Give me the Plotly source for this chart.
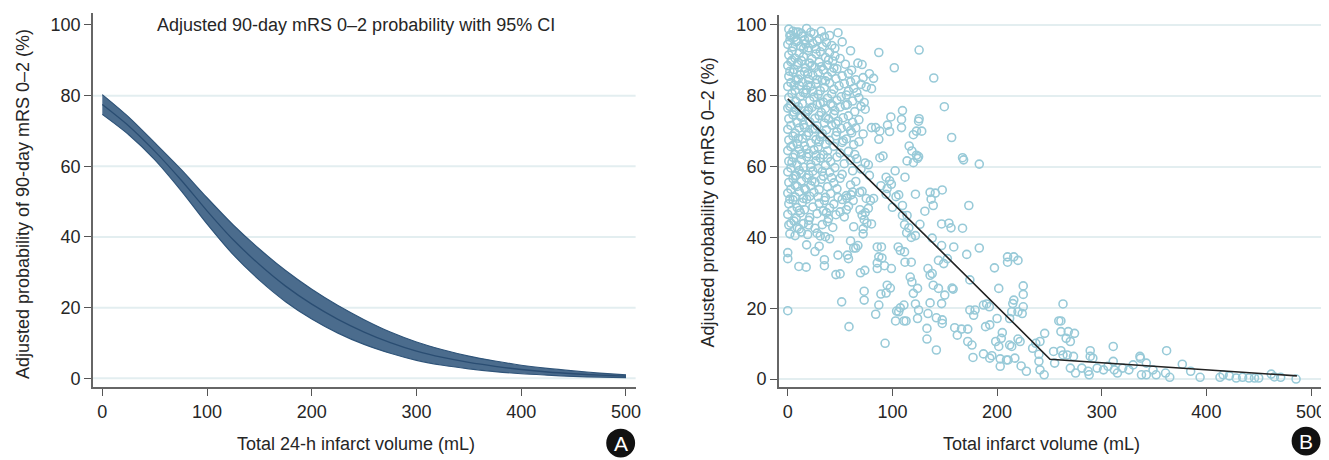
import plotly.graph_objects as go

# ---------------- Panel A data: adjusted probability with 95% CI ----------------
vol_a = [0, 25, 50, 75, 100, 125, 150, 175, 200, 225, 250, 275, 300, 325, 350, 375, 400, 425, 450, 475, 500]
prob_a = [77.5, 71.5, 64.3, 56.2, 47.4, 39.2, 32.2, 26.1, 21.0, 16.7, 13.1, 10.1, 7.7, 5.9, 4.5, 3.4, 2.5, 1.8, 1.3, 0.9, 0.6]
ci_high_a = [80.3, 74.0, 66.7, 59.2, 51.1, 43.4, 36.6, 30.5, 25.2, 20.6, 16.6, 13.1, 10.3, 8.1, 6.3, 4.9, 3.7, 2.8, 2.1, 1.5, 1.0]
ci_low_a = [74.7, 69.0, 61.9, 53.2, 43.7, 35.0, 27.8, 21.7, 16.8, 12.8, 9.6, 7.1, 5.1, 3.7, 2.7, 1.9, 1.3, 0.9, 0.55, 0.35, 0.2]

# ---------------- Panel B data: individual adjusted probabilities (volume, probability) ----------------
cluster_top = [
    (1, 98.8), (3, 97.2), (6, 96.5), (10, 98.0), (14, 96.8), (18, 99.0), (25, 97.5), (32, 98.2), (48, 97.8), (20, 96.3), (8, 97.9),
    (0, 94.5), (2, 95.6), (5, 93.8), (8, 95.2), (12, 94.0), (16, 95.8), (20, 93.5), (24, 94.8), (28, 95.5), (33, 93.9), (37, 95.0),
    (42, 94.2), (52, 95.2), (30, 96.0), (45, 93.4),
    (1, 91.5), (4, 92.6), (7, 90.6), (11, 92.0), (15, 91.0), (19, 92.8), (23, 90.4), (27, 91.8), (31, 92.4), (36, 90.8), (40, 92.2),
    (45, 91.2), (50, 90.5), (60, 92.7),
    (0, 88.5), (3, 89.6), (6, 87.4), (9, 88.8), (13, 89.9), (17, 87.8), (21, 89.2), (26, 88.0), (30, 89.5), (34, 87.3), (38, 88.6),
    (43, 89.8), (47, 87.6), (55, 88.9), (61, 87.2), (71, 88.8),
    (1, 85.5), (5, 86.6), (8, 84.4), (12, 85.9), (16, 86.8), (20, 84.6), (24, 85.7), (29, 86.5), (33, 84.3), (38, 85.4), (42, 86.7),
    (46, 84.8), (52, 85.6), (58, 86.3), (65, 84.5), (72, 85.1), (78, 86.2), (82, 84.9),
    (0, 82.6), (3, 83.7), (7, 81.5), (11, 82.9), (14, 83.8), (18, 81.6), (22, 82.7), (27, 83.5), (31, 81.4), (35, 82.3), (40, 83.6),
    (44, 81.8), (49, 82.8), (54, 83.4), (58, 81.3), (63, 82.1), (70, 83.2), (75, 82.5), (80, 82.0),
]
cluster_mid = [
    (1, 79.5), (4, 80.6), (8, 78.4), (12, 79.8), (17, 80.7), (21, 78.6), (25, 79.6), (29, 80.4), (34, 78.2), (38, 79.3), (42, 80.5),
    (47, 78.7), (51, 79.7), (56, 80.2), (62, 78.5), (68, 79.4), (73, 78.1),
    (0, 76.5), (3, 77.6), (6, 75.4), (10, 76.9), (14, 77.8), (19, 75.6), (23, 76.7), (28, 77.5), (32, 75.3), (36, 76.4), (41, 77.7),
    (45, 75.8), (50, 76.8), (55, 77.3), (64, 75.5), (70, 77.0), (74, 76.2),
    (1, 73.5), (5, 74.6), (9, 72.4), (13, 73.9), (17, 74.8), (21, 72.6), (26, 73.6), (30, 74.4), (35, 72.3), (39, 73.4), (44, 74.7),
    (48, 72.8), (53, 73.8), (58, 74.3), (62, 72.5), (68, 73.2),
    (0, 70.5), (3, 71.6), (7, 69.4), (11, 70.9), (15, 71.8), (20, 69.6), (24, 70.7), (28, 71.5), (33, 69.3), (37, 70.4), (42, 71.7),
    (47, 69.8), (51, 70.8), (57, 71.3), (61, 69.5), (65, 70.9), (72, 69.2),
    (1, 67.5), (5, 68.6), (9, 66.4), (14, 67.9), (18, 68.8), (22, 66.6), (27, 67.6), (31, 68.4), (36, 66.3), (40, 67.4), (46, 68.7),
    (52, 66.8), (56, 67.8), (63, 66.2), (68, 67.0),
    (0, 64.5), (3, 65.6), (7, 63.4), (11, 64.9), (16, 65.8), (20, 63.6), (25, 64.7), (29, 65.5), (34, 63.3), (38, 64.4), (44, 65.7),
    (50, 63.8), (58, 64.3), (64, 63.4),
]
cluster_low = [
    (1, 61.5), (5, 62.6), (9, 60.4), (13, 61.9), (18, 62.8), (22, 60.6), (27, 61.6), (31, 62.4), (36, 60.3), (41, 61.4), (47, 62.7),
    (54, 60.8), (60, 61.8), (66, 62.2), (74, 61.0), (77, 60.5),
    (0, 58.5), (3, 59.6), (7, 57.4), (11, 58.9), (15, 59.8), (20, 57.6), (24, 58.7), (29, 59.5), (34, 57.3), (40, 58.4), (45, 59.7),
    (52, 57.8), (62, 58.8), (70, 59.3), (78, 57.5),
    (1, 55.5), (5, 56.6), (9, 54.4), (13, 55.9), (18, 56.8), (22, 54.6), (26, 55.6), (32, 56.4), (38, 54.3), (44, 55.4), (50, 56.7),
    (60, 54.8), (65, 55.8),
    (0, 52.5), (3, 53.6), (7, 51.4), (11, 52.9), (16, 53.8), (21, 51.6), (25, 52.7), (30, 53.5), (36, 51.3), (41, 52.4), (47, 53.7),
    (56, 51.8), (62, 52.8), (71, 53.0),
    (1, 49.5), (5, 50.6), (9, 48.4), (14, 49.9), (18, 50.8), (24, 48.6), (30, 49.6), (35, 50.4), (40, 48.3), (44, 49.4), (52, 50.7),
    (58, 48.8),
    (0, 46.5), (4, 47.6), (8, 45.4), (12, 46.9), (16, 47.8), (21, 45.6), (28, 46.7), (34, 47.5), (39, 45.3), (46, 46.4), (50, 47.2),
    (54, 45.8),
    (1, 43.5), (6, 44.6), (11, 42.4), (15, 43.9), (20, 44.8), (26, 42.6), (33, 43.6), (38, 44.4), (43, 42.8),
    (2, 41.0), (7, 40.5), (13, 41.5), (19, 40.8), (28, 41.2), (36, 40.2),
    (0, 19.3), (17.6, 31.6), (10.6, 31.8), (0, 35.7), (0, 34.0), (51.5, 21.8), (58.5, 14.8), (46, 29.5), (50, 29.7), (48, 35.0),
    (35, 33.7), (35, 32.0), (40, 39.6), (31, 40.4), (30, 37.5), (18, 37.9), (26, 36.0), (20, 43.5),
]
cluster_fill = [
    (2, 97.0), (5, 98.2), (9, 95.5), (13, 97.6), (17, 94.6), (22, 97.9), (27, 93.2), (35, 96.6), (40, 97.0), (4, 90.0),
    (10, 89.4), (15, 93.3), (19, 86.2), (23, 88.5), (28, 84.6), (2, 86.9), (6, 83.0), (10, 84.7), (15, 80.9), (19, 83.0),
    (24, 81.2), (2, 77.0), (8, 76.0), (12, 74.4), (16, 71.0), (20, 76.0), (26, 70.6), (5, 66.0), (10, 68.0), (13, 63.5),
    (18, 64.8), (22, 59.8), (27, 63.1), (4, 61.2), (8, 57.5), (13, 58.0), (17, 53.5), (23, 56.0), (2, 50.8), (7, 54.7),
    (11, 47.6), (15, 51.0), (3, 44.0), (9, 42.8), (32, 88.2), (36, 84.2), (44, 87.8), (39, 90.1), (31, 77.8), (36, 73.8),
    (43, 77.2), (30, 67.0), (38, 62.5), (33, 58.6), (42, 56.8), (29, 51.4), (37, 47.0), (48, 51.3), (53, 67.3), (57, 77.5),
    (46, 72.1), (60, 70.1), (66, 80.9), (60, 83.9), (67, 89.2),
]
spread = [
    (93, 10.1), (87, 20.9), (84, 18.3), (73, 24.8), (73, 22.3), (69.5, 30.0), (73.6, 30.7), (58, 34.0), (57, 35.0), (63, 37.0),
    (65, 37.0), (60, 39.0), (67, 37.7), (72, 41.0), (72, 42.4), (73, 45.0), (75.6, 44.0), (69, 47.8), (71, 46.3), (74, 47.0),
    (63, 43.0), (56, 47.8), (62.5, 50.4), (56.4, 51.1), (60.5, 52.0), (68.7, 52.7), (75, 51.0), (79, 50.4), (82, 51.0), (77, 48.2),
    (80, 43.8), (85.5, 37.3), (89.5, 37.3), (87, 34.5), (90, 34.2), (85.5, 32.8), (85.5, 31.2), (92.4, 32.0), (99, 31.2),
    (89, 24.0), (94, 24.3), (98, 25.7), (95, 26.5), (103, 16.4), (106, 19.0), (107.5, 20.1), (111, 20.9), (104, 19.2), (111, 16.4),
    (113, 16.4), (122, 21.2), (124, 17.1), (125, 19.5), (120, 24.2), (124, 25.6), (117, 28.8), (118.6, 27.4), (112, 33.0),
    (118, 33.0), (111.6, 35.9), (107.5, 36.3), (105.5, 37.3), (113.6, 41.3), (118, 40.0), (122, 40.5), (111.6, 43.6), (115.7, 42.7),
    (109.6, 46.2), (114, 46.2), (109.6, 49.0), (103.4, 51.5), (106, 52.0), (97.3, 56.0), (102.6, 58.8), (94, 52.2), (95, 53.8),
    (99, 55.0), (100, 48.5), (89, 54.6), (94, 57.0), (88, 62.5), (91, 63.0), (124, 62.3), (125, 62.8), (123, 63.2), (114, 61.6),
    (120, 61.1), (116, 65.8), (118.6, 64.4), (120, 69.0), (123, 70.0), (128, 70.0), (125, 72.8), (125.5, 73.5), (109.6, 75.8),
    (108.7, 73.3), (108.7, 71.0), (98.5, 74.0), (95.3, 71.7), (97.3, 69.9), (88, 70.0), (80, 71.0), (84, 71.0), (87, 67.7),
    (112, 57.0), (122, 52.2), (126.3, 43.7), (131, 47.4), (136, 52.7), (141, 52.5), (147.6, 53.4), (137, 50.8), (139, 49.0),
    (138, 39.8), (147, 43.8), (154, 44.0), (156, 42.7), (158.6, 37.3), (147, 37.7), (144, 33.5), (149, 32.6), (152.5, 34.0),
    (134, 31.2), (136, 29.3), (138, 29.8), (139, 26.5), (144, 25.6), (157, 25.7), (158, 25.4), (150, 23.7), (136, 21.5),
    (147, 21.3), (134, 18.5), (133, 14.3), (133, 11.3), (142, 17.3), (147.6, 16.7), (147.6, 15.7), (142, 8.2), (159.5, 14.5),
    (162, 12.4), (166, 14.1), (172, 14.1), (172, 10.6), (176, 9.6), (177, 6.1), (174, 19.5), (177.6, 18.0), (179, 19.5),
    (174, 28.0), (171, 35.2), (167, 42.6), (173, 49.0), (183, 37.0), (167, 62.5), (168, 61.9), (183, 60.7), (156.6, 68.2),
    (149.6, 76.9), (139.5, 85.0), (125.5, 92.9), (101.8, 87.9), (87, 92.2),
]
tail = [
    (187, 20.9), (190, 21.2), (192.6, 20.4), (189, 14.8), (193, 15.3), (187, 7.1), (193, 5.9), (195, 6.6), (197.5, 31.4),
    (201.6, 25.6), (200, 17.1), (198.7, 10.6), (201.6, 9.2), (204, 11.5), (205, 13.1), (203, 5.7), (203, 3.6), (209, 5.4),
    (210.5, 5.4), (217, 5.9), (210, 34.5), (210, 33.0), (216, 34.5), (220, 33.5), (212, 17.1), (214, 19.0), (215, 21.3),
    (216, 22.3), (212, 9.6), (214, 9.2), (220, 11.3), (222, 10.6), (223, 3.7), (228, 2.2), (225, 26.3), (225, 23.9), (225, 20.4),
    (224, 18.5), (220, 19.0), (234, 8.7), (237, 10.1), (240, 7.0), (240, 5.0), (241, 2.6), (245, 1.2), (245.5, 12.9), (241, 10.6),
    (255, 4.5), (254, 7.8), (263, 21.2), (259, 16.4), (261, 16.4), (261, 13.4), (268, 13.4), (266, 11.5), (270, 10.6), (274, 12.9),
    (261, 8.0), (263, 6.8), (267, 6.8), (273, 6.4), (270, 3.1), (275, 1.7), (281, 3.1), (287, 2.2), (288, 1.2), (289, 8.0),
    (289, 6.4), (291.5, 5.9), (295.6, 3.1), (301.7, 2.6), (306, 3.6), (311, 9.2), (311, 5.0), (312, 2.6), (315, 1.7), (320, 3.1),
    (326, 2.6), (330, 4.0), (336.5, 6.4), (337, 5.9), (338, 1.2), (342.6, 1.2), (349, 2.6), (352, 1.2), (342.6, 4.5), (361, 1.7),
    (365, 0.5), (362, 8.0), (377, 4.2), (385, 2.2), (394, 0.5), (413, 0.5), (416, 1.2), (422, 0.9), (428.5, 0.3), (434.6, 0.5),
    (440.7, 0.3), (446, 0.3), (450, 0.3), (462, 1.4), (465, 0.6), (471, 0.5), (485.7, 0.0),
]

# piecewise linear fit in panel B
fit_x = [0, 250.6, 486.5]
fit_y = [79.1, 5.6, 0.9]

y_ticks = [0, 20, 40, 60, 80, 100]
x_ticks = [0, 100, 200, 300, 400, 500]
grid_left = [0, 20, 40, 60, 80]

# The page body adds an 8 px margin, so the figure is sized to fit the window exactly.
W, H = 1321, 452
OFF = 8


def px(x):
    return (x - OFF) / W


def py(y):
    return 1 - (y - OFF) / H


FONT = "Liberation Sans, Arial, sans-serif"
TXT = "#262626"
BAND_FILL = "#4b6c8d"
BAND_EDGE = "#2f5479"
PT_COLOR = "#98cad8"
GRID = "#e3eef0"

fig = go.Figure()

# Panel A band
fig.add_trace(go.Scatter(x=vol_a, y=ci_low_a, mode="lines", line=dict(color=BAND_EDGE, width=1.2, shape="spline", smoothing=0.8),
                         xaxis="x", yaxis="y", showlegend=False, hoverinfo="skip"))
fig.add_trace(go.Scatter(x=vol_a, y=ci_high_a, mode="lines", line=dict(color=BAND_EDGE, width=1.2, shape="spline", smoothing=0.8),
                         fill="tonexty", fillcolor=BAND_FILL, xaxis="x", yaxis="y", showlegend=False, hoverinfo="skip"))
fig.add_trace(go.Scatter(x=vol_a, y=prob_a, mode="lines", line=dict(color="#2a4d72", width=1.3, shape="spline", smoothing=0.8),
                         xaxis="x", yaxis="y", showlegend=False))

# Panel B scatter
all_pts = cluster_top + cluster_mid + cluster_low + cluster_fill + spread + tail
fig.add_trace(go.Scatter(x=[p[0] for p in all_pts], y=[p[1] for p in all_pts], mode="markers",
                         marker=dict(symbol="circle-open", size=8, color=PT_COLOR, line=dict(width=1.6, color=PT_COLOR)),
                         xaxis="x2", yaxis="y2", showlegend=False))
fig.add_trace(go.Scatter(x=fit_x, y=fit_y, mode="lines", line=dict(color="#222222", width=1.6),
                         xaxis="x2", yaxis="y2", showlegend=False))

axis_common = dict(showline=True, linecolor="#666666", linewidth=1.5, ticks="outside", ticklen=7,
                   tickcolor="#555555", tickwidth=1.3, zeroline=False,
                   tickfont=dict(family=FONT, size=18, color=TXT))

fig.update_layout(
    width=W, height=H,
    margin=dict(l=0, r=0, t=0, b=0),
    paper_bgcolor="white", plot_bgcolor="white",
    font=dict(family=FONT, color=TXT),
    xaxis=dict(domain=[px(93.3), px(638)], range=[-8.9, 509.2], tickvals=x_ticks, showgrid=False, anchor="y", **axis_common),
    yaxis=dict(domain=[py(389), py(13)], range=[-2.54, 103.4], tickvals=y_ticks, showgrid=False, anchor="x", **axis_common),
    xaxis2=dict(domain=[px(781.7), 1.0], range=[-8.6, 512.4], tickvals=x_ticks, showgrid=False, anchor="y2", **axis_common),
    yaxis2=dict(domain=[py(389), py(15)], range=[-2.33, 102.8], tickvals=y_ticks, showgrid=True, gridcolor=GRID,
                gridwidth=2, anchor="x2", **axis_common),
)

# left panel gridlines (no line at 100)
for g in grid_left:
    fig.add_shape(type="line", xref="x domain", yref="y", x0=0, x1=1, y0=g, y1=g,
                  line=dict(color=GRID, width=2), layer="below")


def label(text, x, y, size, angle=0, color=TXT):
    fig.add_annotation(text=text, xref="paper", yref="paper", x=px(x), y=py(y), xanchor="center", yanchor="middle",
                       textangle=angle, showarrow=False, font=dict(family=FONT, size=size, color=color))


label("Adjusted 90-day mRS 0–2 probability with 95% CI", 357, 25, 18)
label("Adjusted probability of 90-day mRS 0–2 (%)", 23, 205, 18, angle=-90)
label("Total 24-h infarct volume (mL)", 357, 446, 18)
label("Adjusted probability of mRS 0–2 (%)", 711, 203, 18, angle=-90)
label("Total infarct volume (mL)", 1045, 446, 18)

# panel labels (A, B)
for name, cx, cy in [("A", 623, 445), ("B", 1311, 443)]:
    r = 14.5
    fig.add_shape(type="circle", xref="paper", yref="paper",
                  x0=px(cx - r), x1=px(cx + r), y0=py(cy + r), y1=py(cy - r),
                  fillcolor="#111111", line=dict(color="#111111", width=0))
    label(name, cx, cy, 21, color="white")

fig.write_html("out.html")
